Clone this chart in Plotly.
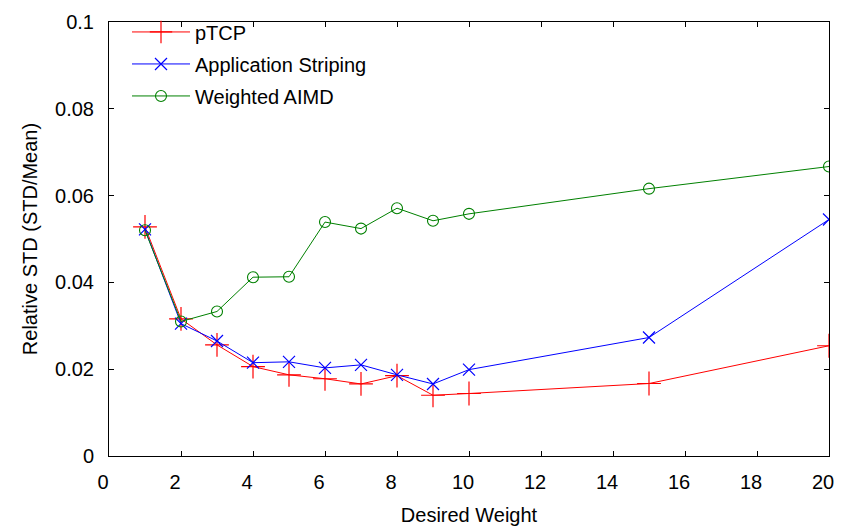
import plotly.graph_objects as go

weights = [1, 2, 3, 4, 5, 6, 7, 8, 9, 10, 15, 20]
ptcp = [0.0528, 0.0316, 0.0256, 0.0206, 0.0187, 0.0178, 0.0166, 0.0185, 0.0140, 0.0144, 0.0167, 0.0254]
app_striping = [0.0522, 0.0305, 0.0265, 0.0215, 0.0217, 0.0203, 0.0210, 0.0187, 0.0166, 0.0199, 0.0273, 0.0545]
weighted_aimd = [0.0520, 0.0310, 0.0333, 0.0412, 0.0413, 0.0539, 0.0524, 0.0571, 0.0542, 0.0558, 0.0616, 0.0667]

x_ticks = [0, 2, 4, 6, 8, 10, 12, 14, 16, 18, 20]
y_ticks = [0, 0.02, 0.04, 0.06, 0.08, 0.1]
y_tick_text = ["0", "0.02", "0.04", "0.06", "0.08", "0.1"]

FONT = "Liberation Sans, Arial, sans-serif"
FS = 20

fig = go.Figure()
fig.add_trace(go.Scatter(
    x=weights, y=ptcp, name="pTCP", mode="lines+markers", legendgroup="a",
    line=dict(color="#ff0000", width=1),
    marker=dict(symbol="cross-thin", size=17, line=dict(color="#ff0000", width=1.2), color="#ff0000"),
))
fig.add_trace(go.Scatter(
    x=weights, y=app_striping, name="Application Striping", mode="lines+markers", legendgroup="b",
    line=dict(color="#0000ff", width=1),
    marker=dict(symbol="x-thin", size=12, line=dict(color="#0000ff", width=1.2), color="#0000ff"),
))
fig.add_trace(go.Scatter(
    x=weights, y=weighted_aimd, name="Weighted AIMD", mode="lines+markers", legendgroup="c",
    line=dict(color="#008000", width=1),
    marker=dict(symbol="circle-open", size=11, line=dict(color="#008000", width=1.1), color="#008000"),
))

axis_common = dict(
    showgrid=False, zeroline=False, showline=True, linecolor="black", linewidth=1,
    mirror="allticks", ticks="inside", ticklen=5, tickcolor="black",
    tickfont=dict(family=FONT, size=FS, color="black"),
    automargin=False,
)

fig.update_layout(
    width=844, height=526,
    margin=dict(l=109, r=15, t=16, b=70),
    paper_bgcolor="white", plot_bgcolor="white",
    font=dict(family=FONT, size=FS, color="black"),
    showlegend=True,
    legend=dict(
        x=0.025, y=1.022, xanchor="left", yanchor="top",
        bgcolor="rgba(0,0,0,0)", borderwidth=0,
        font=dict(family=FONT, size=FS, color="black"),
        itemwidth=58, tracegroupgap=3,
    ),
    xaxis=dict(
        range=[0, 20], tickvals=x_ticks, ticktext=[str(v) for v in x_ticks],
        title=dict(text="Desired Weight", font=dict(family=FONT, size=FS), standoff=18),
        ticklabelshift=-6, ticklabelstandoff=8,
        **axis_common,
    ),
    yaxis=dict(
        range=[0, 0.1], tickvals=y_ticks, ticktext=y_tick_text,
        title=dict(text="Relative STD (STD/Mean)", font=dict(family=FONT, size=FS), standoff=12),
        ticklabelstandoff=10,
        **axis_common,
    ),
)

fig.write_html("out.html")
